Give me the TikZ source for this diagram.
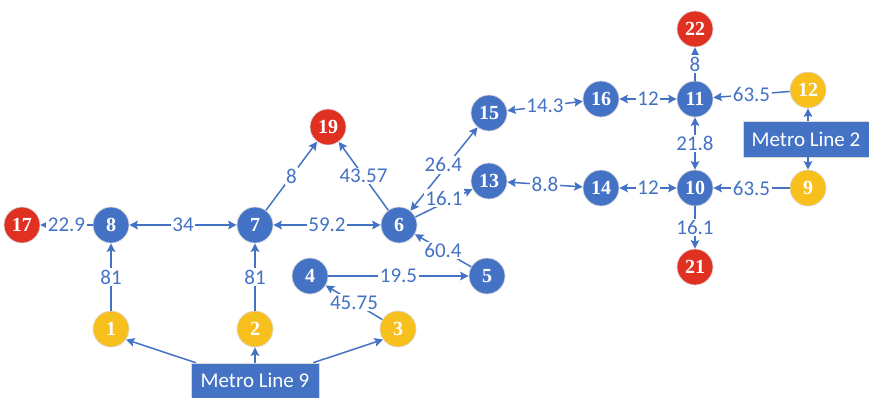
\documentclass[tikz,border=0pt]{standalone}
\usepackage{fontspec}
\setmainfont{Carlito}
\newfontfamily\stnfont{Liberation Serif}
\usetikzlibrary{arrows.meta}
\definecolor{mblue}{HTML}{4472C4}
\definecolor{myellow}{HTML}{F8C01C}
\definecolor{mred}{HTML}{E03022}
\tikzset{
  stn/.style={circle, minimum size=36pt, inner sep=0pt, draw=black!15, line width=0.7pt,
    text=white, font=\stnfont\bfseries\fontsize{20}{20}\selectfont},
  bst/.style={stn, fill=mblue},
  yst/.style={stn, fill=myellow},
  rst/.style={stn, fill=mred},
  mline/.style={rectangle, fill=mblue, draw=black!15, line width=0.7pt, text=white,
    font=\fontsize{21}{21}\selectfont, inner sep=0pt},
  conn/.style={draw=mblue, line width=1.5pt, -{Stealth[length=8.5pt,width=8.5pt,inset=1.5pt]}},
  bconn/.style={draw=mblue, line width=1.5pt, {Stealth[length=8.5pt,width=8.5pt,inset=1.5pt]}-{Stealth[length=8.5pt,width=8.5pt,inset=1.5pt]}},
  lbl/.style={fill=white, text=mblue, font=\fontsize{21}{21}\selectfont, inner sep=1.5pt, pos=0.5}
}
\begin{document}
\begin{tikzpicture}[x=1pt,y=-1pt]
\useasboundingbox (0,0) rectangle (869,397);
% stations
\node[rst] (n17) at (22,225) {17};
\node[bst] (n8) at (111,225) {8};
\node[bst] (n7) at (255,225) {7};
\node[rst] (n19) at (328,127) {19};
\node[bst] (n6) at (399,225) {6};
\node[bst] (n4) at (310,276) {4};
\node[bst] (n5) at (487,276) {5};
\node[yst] (n1) at (111,329) {1};
\node[yst] (n2) at (255,329) {2};
\node[yst] (n3) at (398,329) {3};
\node[bst] (n15) at (489,113) {15};
\node[bst] (n13) at (489,181) {13};
\node[bst] (n16) at (601,99) {16};
\node[bst] (n14) at (601,188) {14};
\node[bst] (n11) at (695,99) {11};
\node[bst] (n10) at (695,188) {10};
\node[rst] (n22) at (695,29) {22};
\node[rst] (n21) at (695,267) {21};
\node[yst] (n12) at (808,90) {12};
\node[yst] (n9) at (808,188) {9};
% metro line boxes
\node[mline, minimum width=126pt, minimum height=36pt] (ml2) at (806,139) {Metro Line 2};
\node[mline, minimum width=128pt, minimum height=35pt] (ml9) at (255,380.5) {Metro Line 9};
% connectors
\draw[conn] (n8) -- (n17) node[lbl] {22.9};
\draw[bconn] (n8) -- (n7) node[lbl] {34};
\draw[conn] (n1) -- (n8) node[lbl] {81};
\draw[conn] (n2) -- (n7) node[lbl] {81};
\draw[conn] (n7) -- (n19) node[lbl] {8};
\draw[conn] (n6) -- (n19) node[lbl] {43.57};
\draw[bconn] (n7) -- (n6) node[lbl] {59.2};
\draw[bconn] (n6) -- (n15) node[lbl, pos=0.55, xshift=-4pt] {26.4};
\draw[conn] (n6) -- (n13) node[lbl, yshift=5pt] {16.1};
\draw[conn] (n5) -- (n6) node[lbl] {60.4};
\draw[conn] (n4) -- (n5) node[lbl] {19.5};
\draw[conn] (n3) -- (n4) node[lbl] {45.75};
\draw[bconn] (n15) -- (n16) node[lbl] {14.3};
\draw[bconn] (n16) -- (n11) node[lbl] {12};
\draw[bconn] (n13) -- (n14) node[lbl] {8.8};
\draw[bconn] (n14) -- (n10) node[lbl] {12};
\draw[conn] (n11) -- (n22) node[lbl] {8};
\draw[bconn] (n11) -- (n10) node[lbl] {21.8};
\draw[conn] (n10) -- (n21) node[lbl] {16.1};
\draw[conn] (n12) -- (n11) node[lbl] {63.5};
\draw[conn] (n9) -- (n10) node[lbl] {63.5};
\draw[conn] (ml2.north -| n12) -- (n12);
\draw[conn] (ml2.south -| n9) -- (n9);
\draw[conn] ([xshift=5pt]ml9.north west) -- (n1.-35);
\draw[conn] (ml9.north) -- (n2);
\draw[conn] ([xshift=-6pt]ml9.north east) -- (n3.215);
\end{tikzpicture}
\end{document}
